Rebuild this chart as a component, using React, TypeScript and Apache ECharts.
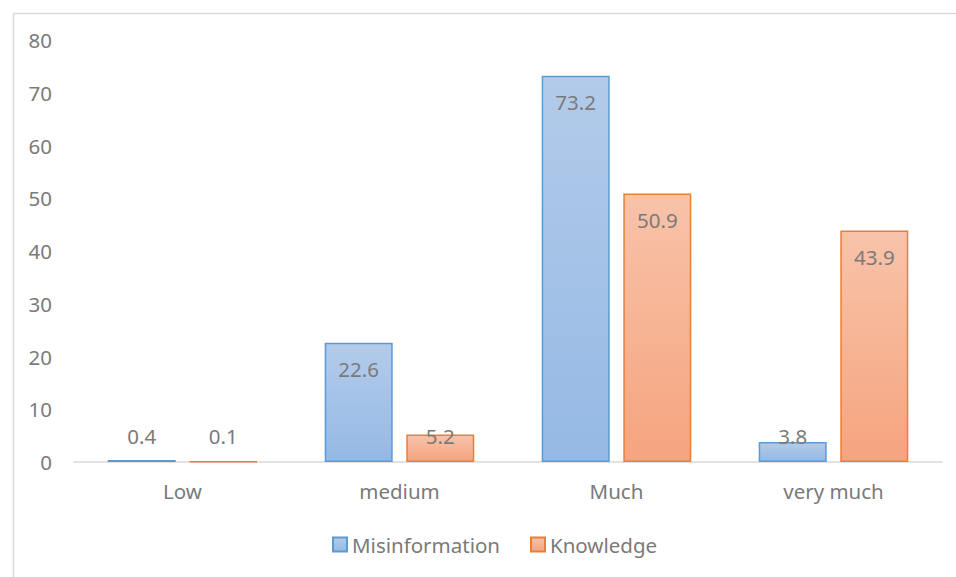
import React, { useEffect, useRef } from "react";
import * as echarts from "echarts";

const categories = ["Low", "medium", "Much", "very much"];
const misinformation = [0.4, 22.6, 73.2, 3.8];
const knowledge = [0.1, 5.2, 50.9, 43.9];
const yTicks = [0, 10, 20, 30, 40, 50, 60, 70, 80];

const TEXT = "#7a7a7a";
const FONT = "'Noto Sans', 'Open Sans', sans-serif";
const FS = 20.5;

function grad(top: string, bottom: string) {
  return new echarts.graphic.LinearGradient(0, 0, 0, 1, [
    { offset: 0, color: top },
    { offset: 1, color: bottom },
  ]);
}

function makeData(values: number[]) {
  return values.map((v) => {
    const small = v < 8;
    return {
      value: v,
      label: small
        ? { position: "insideBottom", distance: 16 }
        : { position: "insideTop", distance: 16 },
    };
  });
}

export default function App() {
  const ref = useRef<HTMLDivElement>(null);
  useEffect(() => {
    if (!ref.current) return;
    const chart = echarts.init(ref.current, undefined, { renderer: "svg" });
    const labelCommon = {
      show: true,
      color: TEXT,
      fontSize: FS,
      fontFamily: FONT,
      formatter: (p: any) => String(p.value),
    };
    chart.setOption({
      animation: false,
      backgroundColor: "#ffffff",
      textStyle: { fontFamily: FONT },
      graphic: [
        {
          type: "rect",
          left: 11,
          top: 11,
          shape: { x: 0, y: 0, width: 1000, height: 1000 },
          style: { fill: "none", stroke: "#d9d9d9", lineWidth: 1.5 },
          silent: true,
        },
      ],
      grid: { left: 74, right: 14, top: 40, bottom: 115, containLabel: false },
      legend: {
        bottom: 17,
        left: 327,
        icon: "rect",
        itemWidth: 14,
        itemHeight: 14,
        itemGap: 30,
        textStyle: { color: TEXT, fontSize: FS, fontFamily: FONT },
        data: ["Misinformation", "Knowledge"],
      },
      xAxis: {
        type: "category",
        data: categories,
        axisLine: { lineStyle: { color: "#d9d9d9", width: 1.5 } },
        axisTick: { show: false },
        axisLabel: { color: TEXT, fontSize: FS, fontFamily: FONT, margin: 18 },
      },
      yAxis: {
        type: "value",
        min: yTicks[0],
        max: yTicks[yTicks.length - 1],
        interval: 10,
        splitLine: { show: false },
        axisLine: { show: false },
        axisTick: { show: false },
        axisLabel: { color: TEXT, fontSize: FS, fontFamily: FONT, margin: 22 },
      },
      series: [
        {
          name: "Misinformation",
          type: "bar",
          barWidth: 68,
          barGap: "20%",
          data: makeData(misinformation),
          itemStyle: {
            color: grad("#b3cbea", "#95b9e4"),
            borderColor: "#5b9bd5",
            borderWidth: 1.5,
          },
          label: labelCommon,
        },
        {
          name: "Knowledge",
          type: "bar",
          barWidth: 68,
          barGap: "20%",
          data: makeData(knowledge),
          itemStyle: {
            color: grad("#f8c3aa", "#f5a47e"),
            borderColor: "#ed7d31",
            borderWidth: 1.5,
          },
          label: labelCommon,
        },
      ],
    });
    return () => chart.dispose();
  }, []);
  return (
    <div
      ref={ref}
      style={{ position: "absolute", left: 0, top: 0, width: 956, height: 577 }}
    />
  );
}
